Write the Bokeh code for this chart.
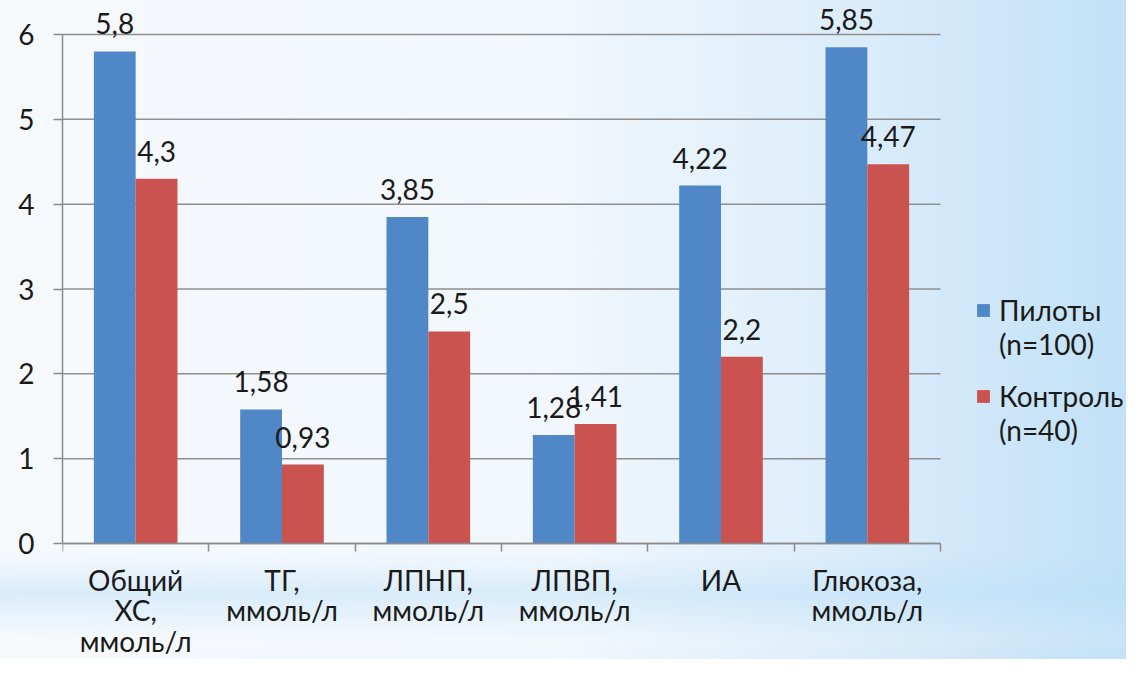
from bokeh.plotting import figure
from bokeh.models import (Range1d, FixedTicker, ColumnDataSource, LabelSet, Legend, LegendItem)
from bokeh.core.properties import value
from bokeh.embed import file_html
from bokeh.resources import INLINE

categories = ["Общий\nХС,\nммоль/л", "ТГ,\nммоль/л", "ЛПНП,\nммоль/л",
              "ЛПВП,\nммоль/л", "ИА", "Глюкоза,\nммоль/л"]
pilots = [5.8, 1.58, 3.85, 1.28, 4.22, 5.85]
control = [4.3, 0.93, 2.5, 1.41, 2.2, 4.47]
series_names = ["Пилоты", "Контроль"]
series_notes = ["(n=100)", "(n=40)"]
y_ticks = [0, 1, 2, 3, 4, 5, 6]

BLUE = "#5087C7"
RED = "#CA5350"
FONT = "Lato"
FS = "28px"
TXT = "#1a1a1a"
AX = "#8a8a8a"

# layout (pixels inside the figure)
W, H = 1126, 659
LEFT = 62          # frame left (value axis)
AX_X_END = 940     # pixel where the category axis ends
Y0_PX = 543        # pixel row of value 0
Y6_PX = 34         # pixel row of value 6

n = len(categories)
ymax = max(y_ticks)
px_per_unit_y = (Y0_PX - Y6_PX) / ymax
px_per_cat = (AX_X_END - LEFT) / n
y_start = -(H - Y0_PX) / px_per_unit_y
y_end = ymax + Y6_PX / px_per_unit_y
x_end = (W - LEFT) / px_per_cat

bw = 0.2857
centers = [i + 0.5 for i in range(n)]

def fmt(v):
    return str(v).replace(".", ",")

src_p = ColumnDataSource(dict(x=[c - bw / 2 for c in centers], top=pilots,
                              lab=[fmt(v) for v in pilots]))
src_c = ColumnDataSource(dict(x=[c + bw / 2 for c in centers], top=control,
                              lab=[fmt(v) for v in control]))

p = figure(width=W, height=H, output_backend="svg", toolbar_location=None,
           x_range=Range1d(0, x_end), y_range=Range1d(y_start, y_end),
           min_border_left=LEFT, min_border_right=0, min_border_top=0, min_border_bottom=0)
p.background_fill_alpha = 0
p.border_fill_alpha = 0
p.outline_line_color = None
p.styles = {"background-image":
            "linear-gradient(to bottom, rgba(255,255,255,0) 0%, rgba(255,255,255,0) 84%, "
            "rgba(185,222,248,0.45) 90%, rgba(255,255,255,0.1) 97%, rgba(255,255,255,0) 100%), "
            "linear-gradient(to right, #f6f9fc 0%, #f1f7fc 50%, #dcedfa 75%, #c2e1f7 100%)"}

# grid lines across the category area only
p.segment(x0=0, x1=n, y0=y_ticks, y1=y_ticks, line_color="#8f8f8f", line_width=1.5)

r1 = p.vbar(x="x", top="top", width=bw, bottom=0, source=src_p, fill_color=BLUE, line_color=None)
r2 = p.vbar(x="x", top="top", width=bw, bottom=0, source=src_c, fill_color=RED, line_color=None)
r_blank = p.scatter(x=[], y=[], size=1, fill_alpha=0, line_alpha=0)

for src in (src_p, src_c):
    p.add_layout(LabelSet(x="x", y="top", text="lab", source=src, y_offset=17,
                          text_align="center", text_baseline="alphabetic",
                          text_font=value(FONT), text_font_size=value(FS), text_color=TXT))

p.xgrid.grid_line_color = None
p.ygrid.grid_line_color = None

# category axis fixed at value 0
p.xaxis.fixed_location = 0
p.xaxis.bounds = (0, n)
p.xaxis.ticker = FixedTicker(ticks=centers, minor_ticks=list(range(n + 1)))
p.xaxis.major_label_overrides = {c: categories[i] for i, c in enumerate(centers)}
p.xaxis.major_tick_out = 0
p.xaxis.major_tick_in = 0
p.xaxis.minor_tick_out = 8
p.xaxis.minor_tick_in = 0
p.xaxis.minor_tick_line_color = AX
p.xaxis.minor_tick_line_width = 1.5
p.xaxis.axis_line_color = AX
p.xaxis.axis_line_width = 1.5
p.xaxis.major_label_standoff = 11
p.xaxis.major_label_text_font = FONT
p.xaxis.major_label_text_font_size = FS
p.xaxis.major_label_text_color = TXT
p.xaxis.major_label_text_line_height = 0.91

p.yaxis.bounds = (0, ymax)
p.yaxis.ticker = FixedTicker(ticks=y_ticks)
p.yaxis.major_tick_out = 9
p.yaxis.major_tick_in = 0
p.yaxis.minor_tick_line_color = None
p.yaxis.major_tick_line_color = AX
p.yaxis.major_tick_line_width = 1.5
p.yaxis.axis_line_color = AX
p.yaxis.axis_line_width = 1.5
p.yaxis.major_label_standoff = 19
p.yaxis.major_label_text_font = FONT
p.yaxis.major_label_text_font_size = FS
p.yaxis.major_label_text_color = TXT

legend_bottoms = [298, 212]
for name, note, rend, lb in zip(series_names, series_notes, [r1, r2], legend_bottoms):
    lg = Legend(items=[LegendItem(label=name, renderers=[rend]),
                       LegendItem(label=note, renderers=[r_blank])],
                location=(913, lb), orientation="vertical",
                background_fill_alpha=0, border_line_alpha=0,
                glyph_width=16, glyph_height=16, label_standoff=8,
                spacing=0, padding=0, margin=0,
                label_text_font=FONT, label_text_font_size=FS,
                label_text_color=TXT, label_text_line_height=1.0)
    p.add_layout(lg, "center")

open("out.html", "w").write(file_html(p, INLINE))
